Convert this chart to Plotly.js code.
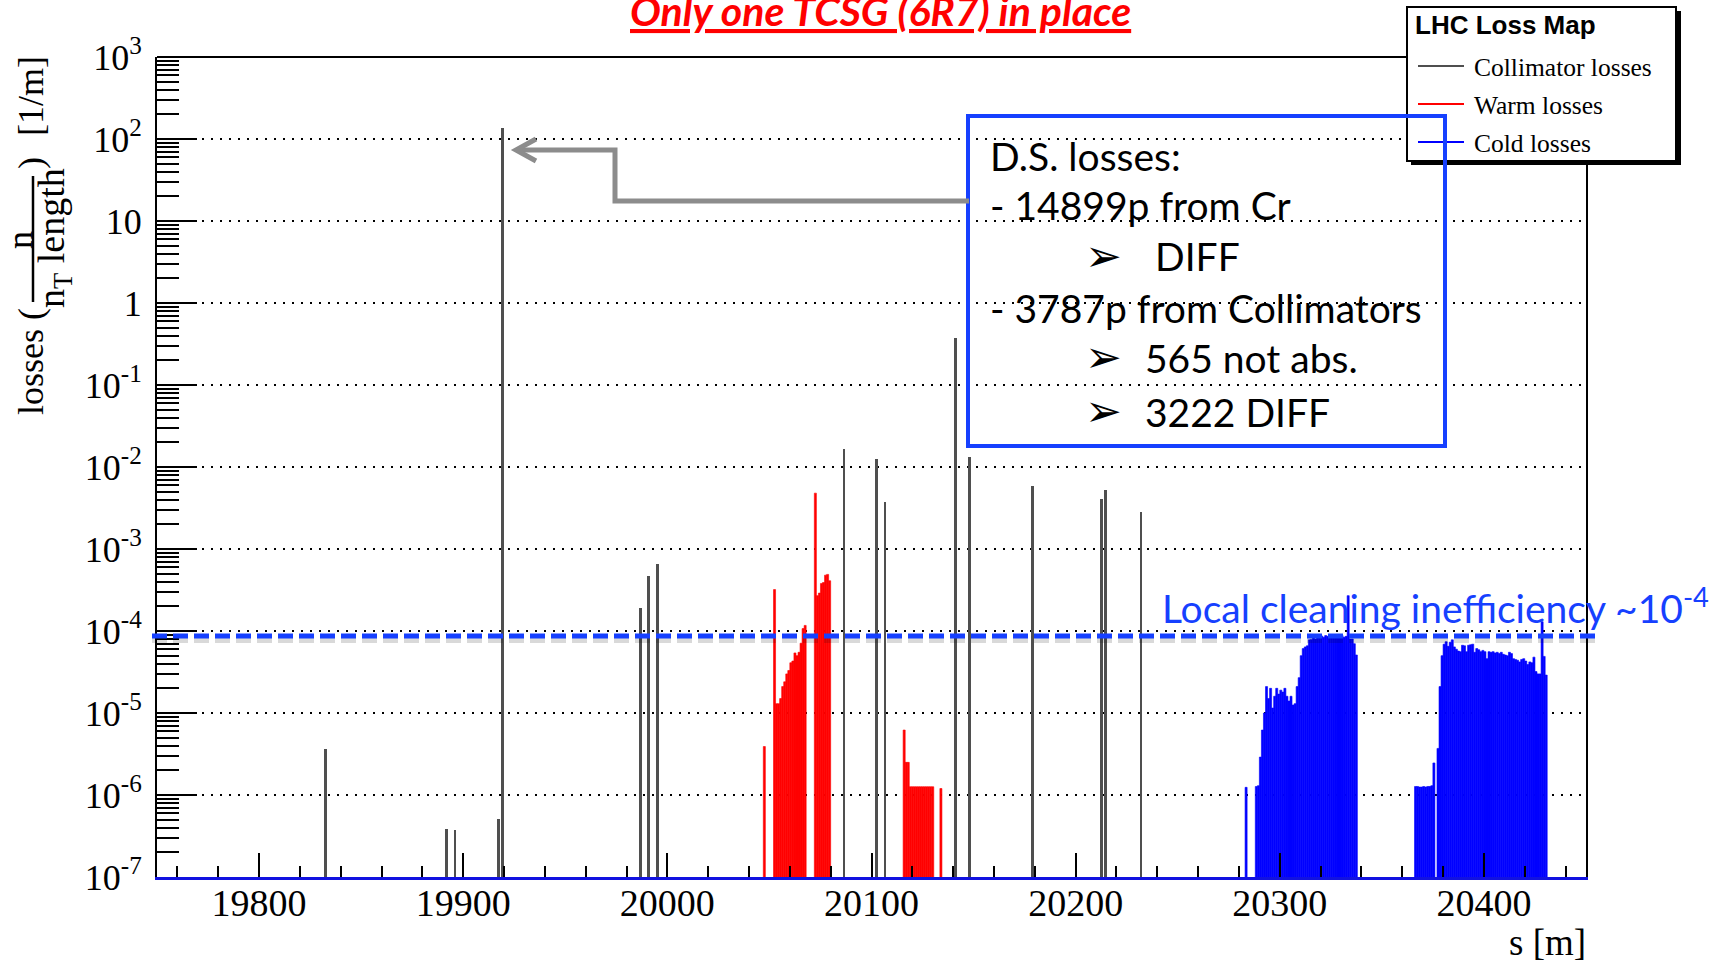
<!DOCTYPE html>
<html>
<head>
<meta charset="utf-8">
<script src="https://cdn.plot.ly/plotly-3.0.1.min.js"></script>
<style>html,body{margin:0;padding:0;background:#fff;}#chart{width:1723px;height:960px;}</style>
</head>
<body>
<div id="chart"></div>
<script>
// ---------------- data ----------------
const collimatorS = [19832.6, 19891.9, 19896.0, 19917.2, 19919.2, 19986.9, 19990.7, 19995.0,
  20086.5, 20102.4, 20106.6, 20141.3, 20147.9, 20178.8, 20212.8, 20214.7, 20232.0];
const collimatorLoss = [3.6e-6, 3.8e-7, 3.7e-7, 5.1e-7, 135, 1.9e-4, 4.7e-4, 6.6e-4,
  1.65e-2, 1.24e-2, 3.7e-3, 0.37, 1.31e-2, 5.9e-3, 4.1e-3, 5.3e-3, 2.85e-3];

const warmS = [20047.5,
  20052.5, 20053.5, 20054.5, 20055.5, 20056.5, 20057.5, 20058.5, 20059.5,
  20060.5, 20061.5, 20062.5, 20063.5, 20064.5, 20065.5, 20066.5, 20067.5,
  20072.5, 20073.5, 20074.5, 20075.5, 20076.5, 20077.5, 20078.5, 20079.5,
  20116, 20117, 20118, 20119, 20120, 20121, 20122, 20123, 20124, 20125,
  20126, 20127, 20128, 20129, 20130, 20134];
const warmLoss = [3.9e-6,
  3.2e-4, 1.3e-5, 1.3e-5, 1.5e-5, 2.1e-5, 2.4e-5, 3.0e-5, 3.3e-5,
  4.1e-5, 4.3e-5, 5.4e-5, 5.0e-5, 5.5e-5, 7.1e-5, 1.07e-4, 1.17e-4,
  4.8e-3, 2.7e-4, 2.9e-4, 3.8e-4, 3.9e-4, 4.8e-4, 4.9e-4, 4.1e-4,
  6.2e-6, 2.5e-6, 2.5e-6, 1.26e-6, 1.26e-6, 1.26e-6, 1.26e-6, 1.26e-6, 1.26e-6, 1.26e-6,
  1.26e-6, 1.26e-6, 1.26e-6, 1.26e-6, 1.26e-6, 1.2e-6];

const coldS = [20283.5,
  20288.5, 20289.5, 20290.5, 20291.5, 20292.5, 20293.5, 20294.5, 20295.5, 20296.5, 20297.5,
  20298.5, 20299.5, 20300.5, 20301.5, 20302.5, 20303.5, 20304.5, 20305.5, 20306.5, 20307.5,
  20308.5, 20309.5, 20310.5, 20311.5, 20312.5, 20313.5, 20314.5, 20315.5, 20316.5, 20317.5,
  20318.5, 20319.5, 20320.5, 20321.5, 20322.5, 20323.5, 20324.5, 20325.5, 20326.5, 20327.5,
  20328.5, 20329.5, 20330.5, 20331.5, 20332.5, 20333.5, 20334.5, 20335.5, 20336.5, 20337.5,
  20366.5, 20367.5, 20368.5, 20369.5, 20370.5, 20371.5, 20372.5, 20373.5, 20374.5, 20375.5,
  20376.5, 20377.5, 20378.5, 20379.5, 20380.5, 20381.5, 20382.5, 20383.5, 20384.5, 20385.5,
  20386.5, 20387.5, 20388.5, 20389.5, 20390.5, 20391.5, 20392.5, 20393.5, 20394.5, 20395.5,
  20396.5, 20397.5, 20398.5, 20399.5, 20400.5, 20401.5, 20402.5, 20403.5, 20404.5, 20405.5,
  20406.5, 20407.5, 20408.5, 20409.5, 20410.5, 20411.5, 20412.5, 20413.5, 20414.5, 20415.5,
  20416.5, 20417.5, 20418.5, 20419.5, 20420.5, 20421.5, 20422.5, 20423.5, 20424.5, 20425.5,
  20426.5, 20427.5, 20428.5, 20429.5, 20430.5];
const coldLoss = [1.24e-6,
  1.27e-6, 1.3e-6, 2.9e-6, 6.2e-6, 1.0e-5, 2.1e-5, 1.5e-5, 2.0e-5, 1.15e-5, 1.6e-5,
  2.0e-5, 1.7e-5, 1.9e-5, 1.8e-5, 2.0e-5, 1.6e-5, 1.4e-5, 1.6e-5, 1.25e-5, 1.3e-5,
  2.1e-5, 2.7e-5, 5.0e-5, 6.1e-5, 6.4e-5, 6.6e-5, 7.8e-5, 7.9e-5, 8.2e-5, 8.0e-5,
  8.5e-5, 8.3e-5, 8.7e-5, 8.4e-5, 8.8e-5, 8.6e-5, 8.2e-5, 8.9e-5, 8.5e-5, 8.7e-5,
  8.3e-5, 8.6e-5, 8.8e-5, 8.4e-5, 8.6e-5, 2.7e-4, 8.0e-5, 8.0e-5, 7.0e-5, 5.1e-5,
  1.27e-6, 1.27e-6, 1.25e-6, 1.25e-6, 1.27e-6, 1.25e-6, 1.27e-6, 1.27e-6, 1.3e-6, 2.46e-6,
  null, 3.7e-6, 2.1e-5, 5.0e-5, 6.9e-5, 7.4e-5, 6.5e-5, 7.3e-5, 7.8e-5, 6.4e-5,
  6.0e-5, 5.7e-5, 5.6e-5, 6.7e-5, 6.6e-5, 5.6e-5, 6.7e-5, 6.8e-5, 6.9e-5, 5.5e-5,
  6.1e-5, 5.9e-5, 5.6e-5, 5.8e-5, 5.6e-5, 4.6e-5, 5.6e-5, 5.5e-5, 5.6e-5, 5.4e-5,
  5.5e-5, 5.3e-5, 5.5e-5, 5.2e-5, 5.1e-5, 5.0e-5, 5.5e-5, 5.3e-5, 4.6e-5, 4.5e-5,
  4.4e-5, 4.2e-5, 4.5e-5, 4.6e-5, 4.3e-5, 3.9e-5, 4.2e-5, 4.1e-5, 4.8e-5, 3.2e-5,
  3.0e-5, 3.0e-5, 1.3e-4, 4.9e-5, 2.9e-5];

const xTickVals = [19800, 19900, 20000, 20100, 20200, 20300, 20400];
const xTickText = ['19800', '19900', '20000', '20100', '20200', '20300', '20400'];
const yTickVals = [1e-7, 1e-6, 1e-5, 1e-4, 1e-3, 1e-2, 1e-1, 1, 10, 100, 1000];
const yTickText = ['10<sup>-7</sup>', '10<sup>-6</sup>', '10<sup>-5</sup>', '10<sup>-4</sup>',
  '10<sup>-3</sup>', '10<sup>-2</sup>', '10<sup>-1</sup>', '1', '10', '10<sup>2</sup>', '10<sup>3</sup>'];

const legendNames = ['Collimator losses', 'Warm losses', 'Cold losses'];
const boxLines = ['D.S. losses:', '- 14899p from Cr', 'DIFF', '- 3787p from Collimators', '565 not abs.', '3222 DIFF'];

// ---------------- geometry helpers (pixel -> paper) ----------------
const PL = 157, PR = 1586, PT = 57, PB = 877;
const xp = px => (px - PL) / (PR - PL);
const yp = py => (PB - py) / (PB - PT);

const COL = {coll: '#4f4f4f', warm: '#ff0000', cold: '#0000ff', note: '#1640ff', arrow: '#8c8c8c'};

const traces = [
  {type: 'bar', x: warmS, y: warmLoss, width: 1, name: legendNames[1],
   marker: {color: COL.warm, line: {color: COL.warm, width: 0.6}}},
  {type: 'bar', x: coldS, y: coldLoss, width: 1, name: legendNames[2],
   marker: {color: COL.cold, line: {color: COL.cold, width: 0.6}}},
  {type: 'bar', x: collimatorS, y: collimatorLoss, width: 1.35, name: legendNames[0],
   marker: {color: COL.coll, line: {width: 0}}}
];

const serif = 'Liberation Serif, Times New Roman, serif';
const shapes = [];
const ann = [];
function line(x0, y0, x1, y1, color, width, dash) {
  shapes.push({type: 'line', xref: 'paper', yref: 'paper', x0: xp(x0), y0: yp(y0), x1: xp(x1), y1: yp(y1),
    line: {color: color, width: width, dash: dash || 'solid'}});
}
function rect(x0, y0, x1, y1, fill, color, width) {
  shapes.push({type: 'rect', xref: 'paper', yref: 'paper', x0: xp(x0), y0: yp(y0), x1: xp(x1), y1: yp(y1),
    fillcolor: fill, line: {color: color, width: width}});
}
function text(t, x, y, font, opts) {
  ann.push(Object.assign({text: t, x: xp(x), y: yp(y), xref: 'paper', yref: 'paper', showarrow: false,
    xanchor: 'left', yanchor: 'middle', font: font}, opts || {}));
}

// top frame line
line(PL, PT, PR, PT, 'black', 2);
// dashed "local cleaning inefficiency" line with soft shadow
line(152, 640, 1597, 640, 'rgba(0,0,0,0.15)', 6, '15px,6px');
line(152, 636, 1597, 636, COL.note, 5, '15px,6px');

// legend box
rect(1411, 11, 1681, 165, 'black', 'black', 0);
rect(1407, 7, 1676, 161, 'white', 'black', 2);
line(1418, 66, 1464, 66, COL.coll, 2);
line(1418, 104, 1464, 104, COL.warm, 2);
line(1418, 142, 1464, 142, COL.cold, 2);

// blue note box
rect(968, 116, 1445, 446, 'rgba(0,0,0,0)', COL.note, 4);
// gray connector arrow
shapes.push({type: 'path', xref: 'paper', yref: 'paper',
  path: 'M' + xp(969) + ',' + yp(201) + ' L' + xp(615) + ',' + yp(201) + ' L' + xp(615) + ',' + yp(150) + ' L' + xp(518) + ',' + yp(150),
  line: {color: COL.arrow, width: 5}});
shapes.push({type: 'path', xref: 'paper', yref: 'paper',
  path: 'M' + xp(536) + ',' + yp(139) + ' L' + xp(516) + ',' + yp(150) + ' L' + xp(536) + ',' + yp(161),
  line: {color: COL.arrow, width: 5}});

// y title fraction bar
line(33, 176, 33, 302, 'black', 2.5);

// ---- texts ----
text('Only one TCSG (6R7) in place', 881, 11,
  {family: 'Lato', size: 41, color: '#ff0000', weight: 'bold', style: 'italic', lineposition: 'under'},
  {xanchor: 'center'});

// y-axis title pieces
const ytf = {family: serif, size: 36, color: 'black'};
text('losses (', 31, 362, ytf, {xanchor: 'center', textangle: -90});
text('n', 20, 240, ytf, {xanchor: 'center', textangle: -90});
text('n<sub>T</sub> length', 54, 238, {family: serif, size: 38, color: 'black'}, {xanchor: 'center', textangle: -90});
text(')', 31, 163, ytf, {xanchor: 'center', textangle: -90});
text('[1/m]', 31, 96, ytf, {xanchor: 'center', textangle: -90});

// x title
text('s [m]', 1588, 942, {family: serif, size: 37, color: 'black'}, {xanchor: 'right'});

// legend texts
text('LHC Loss Map', 1413, 25, {family: 'Liberation Sans, Arial, sans-serif', size: 26, color: 'black', weight: 'bold'});
text(legendNames[0], 1472, 67, {family: serif, size: 25.5, color: 'black'});
text(legendNames[1], 1472, 105, {family: serif, size: 25.5, color: 'black'});
text(legendNames[2], 1472, 143, {family: serif, size: 25.5, color: 'black'});

// note box texts
const nf = {family: 'Lato', size: 39, color: 'black'};
text(boxLines[0], 988, 156, nf);
text(boxLines[1], 988, 205, nf);
text(boxLines[2], 1153, 256, nf);
text(boxLines[3], 988, 308, nf);
text(boxLines[4], 1143, 358, nf);
text(boxLines[5], 1143, 412, nf);
const af = {family: 'DejaVu Sans', size: 44, color: 'black'};
text('\u27A2', 1103, 255, af, {xanchor: 'center'});
text('\u27A2', 1103, 356, af, {xanchor: 'center'});
text('\u27A2', 1103, 410, af, {xanchor: 'center'});

// local cleaning inefficiency label
text('Local cleaning inefficiency ~10<sup>-4</sup>', 1160, 606, {family: 'Lato', size: 39, color: COL.note});

const layout = {
  width: 1723, height: 960,
  margin: {l: PL, r: 1723 - PR, t: PT, b: 960 - PB, pad: 0},
  paper_bgcolor: 'white', plot_bgcolor: 'white',
  showlegend: false, barmode: 'overlay', bargap: 0,
  font: {family: serif, color: 'black'},
  xaxis: {
    range: [19750, 20450], tickmode: 'array', tickvals: xTickVals, ticktext: xTickText,
    ticks: 'inside', ticklen: 24, tickwidth: 2, tickcolor: 'black',
    showgrid: false, zeroline: false, showline: true, linecolor: '#1212e0', linewidth: 3,
    tickfont: {family: serif, size: 38, color: 'black'}, ticklabelstandoff: -10,
    minor: {dtick: 20, tick0: 0, ticks: 'inside', ticklen: 11, tickwidth: 2, tickcolor: 'black', showgrid: false}
  },
  yaxis: {
    type: 'log', range: [-7, 3], tickmode: 'array', tickvals: yTickVals, ticktext: yTickText,
    ticks: 'inside', ticklen: 40, tickwidth: 2, tickcolor: 'black',
    showgrid: true, gridcolor: 'black', gridwidth: 2, griddash: '2px,7px',
    zeroline: false, showline: true, mirror: true, linecolor: 'black', linewidth: 2,
    tickfont: {family: serif, size: 36, color: 'black'}, ticklabelstandoff: 6,
    minor: {dtick: 'D1', ticks: 'inside', ticklen: 22, tickwidth: 2, tickcolor: 'black', showgrid: false}
  },
  shapes: shapes,
  annotations: ann
};

Plotly.newPlot('chart', traces, layout, {displayModeBar: false, staticPlot: true});
</script>
</body>
</html>
